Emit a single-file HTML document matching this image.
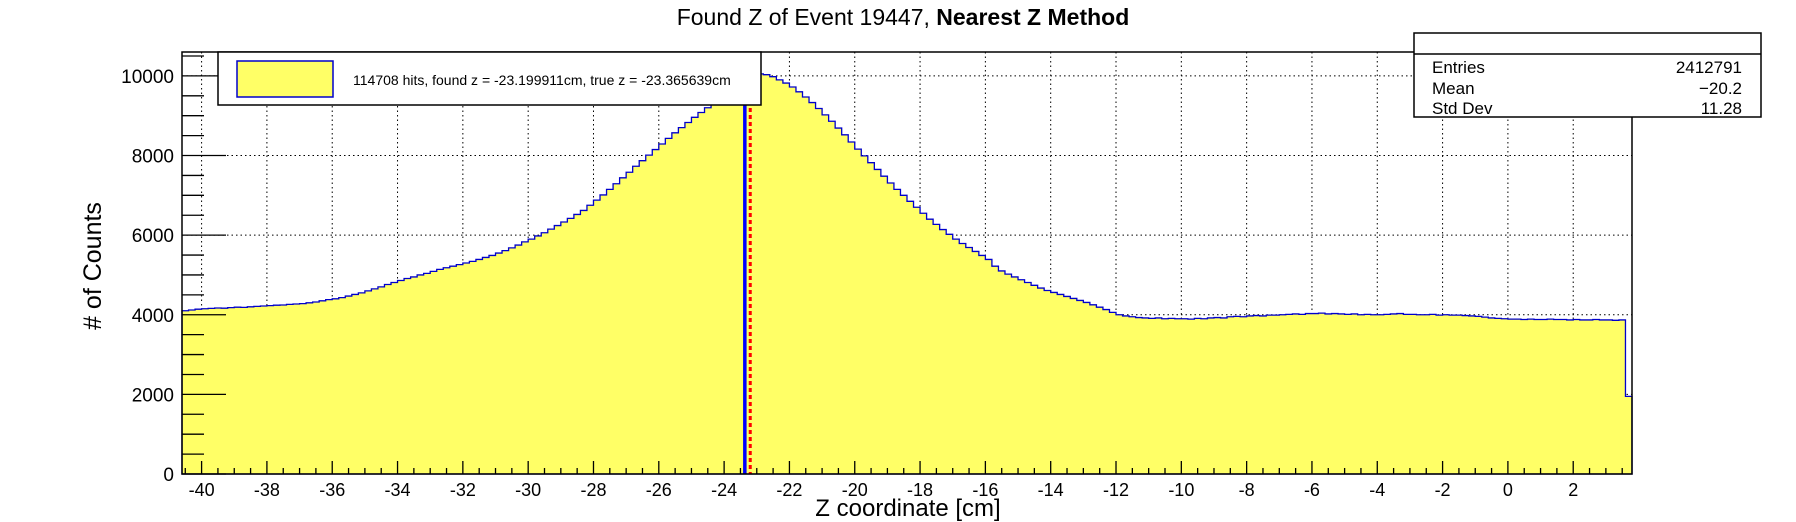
<!DOCTYPE html>
<html><head><meta charset="utf-8"><style>
html,body{margin:0;padding:0;background:#fff;}
svg{display:block;font-family:"Liberation Sans",sans-serif;}
</style></head><body>
<svg id="chart" width="1796" height="522" viewBox="0 0 1796 522" xmlns="http://www.w3.org/2000/svg">
<g id="grid"></g>
<g id="hist"></g>
<g id="marks"></g>
<g id="axes"></g>
<text x="903" y="25" text-anchor="middle" font-size="23">Found Z of Event 19447,   <tspan font-weight="bold">Nearest Z Method</tspan></text>
<text x="908" y="516" text-anchor="middle" font-size="24">Z coordinate [cm]</text>
<text transform="translate(101,266) rotate(-90)" text-anchor="middle" font-size="25"># of Counts</text>
<g>
<rect x="218" y="52" width="543" height="53" fill="#fff" stroke="#000" stroke-width="1.5"/>
<rect x="237" y="61" width="96" height="36" fill="#ffff66" stroke="#0000cc" stroke-width="1.5"/>
<text x="353" y="85" font-size="14">114708 hits, found z = -23.199911cm, true z = -23.365639cm</text>
</g>
<g>
<rect x="1414" y="33" width="347" height="84" fill="#fff" stroke="#000" stroke-width="1.5"/>
<line x1="1414" y1="54" x2="1761" y2="54" stroke="#000" stroke-width="1.5"/>
<text x="1432" y="73" font-size="17">Entries</text><text x="1742" y="73" font-size="17" text-anchor="end">2412791</text>
<text x="1432" y="94" font-size="17">Mean</text><text x="1742" y="94" font-size="17" text-anchor="end">−20.2</text>
<text x="1432" y="114" font-size="17">Std Dev</text><text x="1742" y="114" font-size="17" text-anchor="end">11.28</text>
</g>
<script>
const xMin=-40.6, binWidth=0.2;
const counts=[4100,4120,4140,
4150,4160,4170,4165,4180, 4190,4185,4200,4210,4220, 4230,4240,4245,4260,4270, 4280,4300,4320,4350,4380,
4400,4430,4470,4510,4550, 4600,4650,4700,4760,4810, 4860,4910,4950,5000,5040, 5090,5140,5180,5220,5260,
5300,5340,5390,5440,5490, 5550,5610,5680,5750,5830, 5900,5980,6060,6150,6240, 6330,6420,6520,6620,6750,
6880,7010,7150,7290,7440, 7580,7730,7870,8010,8150, 8290,8430,8570,8700,8830, 8960,9080,9200,9320,9430,
9540,9640,9730,9810,9900, 10050,10030,9980,9900,9820, 9720,9600,9470,9330,9180, 9020,8860,8690,8520,8340,
8160,7990,7820,7650,7480, 7310,7150,7000,6850,6700, 6550,6400,6270,6140,6020, 5900,5790,5690,5590,5490,
5390,5220,5100,5020,4950, 4880,4810,4740,4670,4610, 4560,4510,4460,4410,4360, 4310,4250,4190,4130,4060,
4000,3970,3950,3930,3920, 3910,3920,3900,3910,3900, 3900,3890,3910,3900,3920, 3930,3920,3950,3960,3950,
3970,3980,3970,3990,3990, 4000,4010,4020,4010,4030, 4030,4040,4020,4030,4020, 4010,4020,4000,4010,4000,
4000,4010,4020,4030,4010, 4010,4000,4000,4010,3990, 4000,3990,3990,3980,3970, 3960,3940,3920,3910,3900,
3890,3890,3880,3890,3880, 3880,3890,3880,3880,3870, 3880,3870,3870,3880,3870, 3870,3860,3870,1950];
const xTicks=[-40,-38,-36,-34,-32,-30,-28,-26,-24,-22,-20,-18,-16,-14,-12,-10,-8,-6,-4,-2,0,2];
const yTicks=[0,2000,4000,6000,8000,10000];
const trueZ=-23.365639, foundZ=-23.199911;
const xMax=xMin+counts.length*binWidth, yMax=10600;
const L=182,R=1632,T=52,B=474;
const X=v=>L+(v-xMin)/(xMax-xMin)*(R-L);
const Y=v=>B-v/yMax*(B-T);
const NS='http://www.w3.org/2000/svg';
function mk(tag,parent,attrs){const e=document.createElementNS(NS,tag);for(const k in attrs)e.setAttribute(k,attrs[k]);parent.appendChild(e);return e;}
const grid=document.getElementById('grid'),hist=document.getElementById('hist'),axes=document.getElementById('axes'),marks=document.getElementById('marks');
xTicks.forEach(t=>{const g=mk('line',grid,{x1:X(t),x2:X(t),y1:T,y2:B,stroke:'#000','stroke-width':1,'stroke-dasharray':'1.5,3'});
});
yTicks.forEach(t=>{const g=mk('line',grid,{x1:L,x2:R,y1:Y(t),y2:Y(t),stroke:'#000','stroke-width':1,'stroke-dasharray':'1.5,3'});
});
let d='M'+X(xMin)+','+Y(0);
counts.forEach((c,i)=>{d+=' L'+X(xMin+i*binWidth)+','+Y(c)+' L'+X(xMin+(i+1)*binWidth)+','+Y(c);});
d+=' L'+X(xMax)+','+Y(0)+' Z';
const area=mk('path',hist,{d:d,fill:'#ffff66',stroke:'#0000cc','stroke-width':1.3});

const bl=mk('line',marks,{x1:X(trueZ),x2:X(trueZ),y1:T,y2:B,stroke:'#0000ff','stroke-width':3.5});

const rl=mk('line',marks,{x1:X(foundZ),x2:X(foundZ),y1:T,y2:B,stroke:'#ff0000','stroke-width':3,'stroke-dasharray':'4,3'});

const fr=mk('rect',axes,{x:L,y:T,width:R-L,height:B-T,fill:'none',stroke:'#000','stroke-width':1.5});

for(let v=0;v<=yMax;v+=500){const major=v%2000===0;
const tk=mk('line',axes,{x1:L,x2:L+(major?44:22),y1:Y(v),y2:Y(v),stroke:'#000','stroke-width':1.3});
}
yTicks.forEach(t=>{const tx=mk('text',axes,{x:L-8,y:Y(t)+7,'text-anchor':'end','font-size':19});tx.textContent=t;
});
for(let v=Math.ceil(xMin*2)/2;v<=xMax;v+=0.5){const major=Math.abs(v%2)<1e-6;
const tk=mk('line',axes,{x1:X(v),x2:X(v),y1:B,y2:B-(major?13:6),stroke:'#000','stroke-width':1.3});
}
xTicks.forEach(t=>{const tx=mk('text',axes,{x:X(t),y:B+22,'text-anchor':'middle','font-size':18});tx.textContent=String(t);
});
</script>
</svg>
</body></html>
